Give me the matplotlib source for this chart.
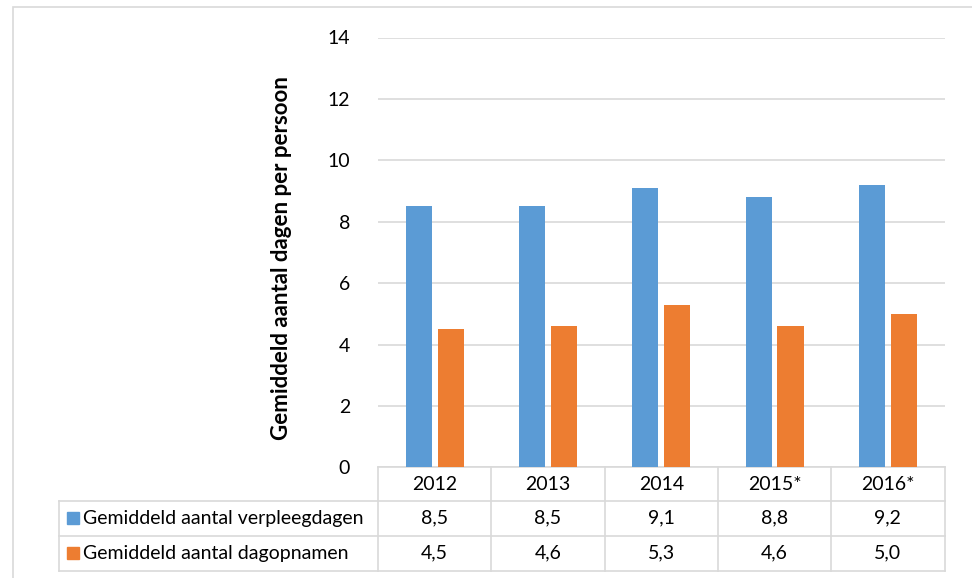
import matplotlib.pyplot as plt
import matplotlib.transforms as mtransforms
from matplotlib.patches import Rectangle
import numpy as np

plt.rcParams['font.family'] = ['Lato', 'DejaVu Sans']

years = ['2012', '2013', '2014', '2015*', '2016*']
series_names = ['Gemiddeld aantal verpleegdagen', 'Gemiddeld aantal dagopnamen']
verpleegdagen = [8.5, 8.5, 9.1, 8.8, 9.2]
dagopnamen = [4.5, 4.6, 5.3, 4.6, 5.0]
colors = ['#5B9BD5', '#ED7D31']
grid_color = '#D9D9D9'

W, H = 972, 578
FS = 14


def fx(px):
    return px / W


def fy(py):
    return 1 - py / H


def plot():
    fig = plt.figure(figsize=(W / 100, H / 100), dpi=100)

    # chart frame
    fig.patches.append(Rectangle((fx(13), fy(600)), fx(990), fy(7) - fy(600),
                                 transform=fig.transFigure, fill=False,
                                 edgecolor=grid_color, linewidth=1.2))

    left, right, top, bottom = 378, 944.5, 37.5, 467.3
    ax = fig.add_axes([fx(left), fy(bottom), fx(right - left), fy(top) - fy(bottom)])

    x = np.arange(len(years))
    width = 0.23
    off = 0.141
    ax.bar(x - off, verpleegdagen, width, color=colors[0], zorder=3)
    ax.bar(x + off, dagopnamen, width, color=colors[1], zorder=3)

    ax.set_xlim(-0.5, len(years) - 0.5)
    ax.set_ylim(0, 14)
    ax.set_yticks(range(0, 15, 2))
    ax.set_xticks([])
    ax.yaxis.grid(True, color=grid_color, linewidth=1.2, zorder=0)
    ax.tick_params(axis='y', length=0, pad=20, labelsize=FS, labelcolor='black')
    for s in ax.spines.values():
        s.set_visible(False)

    fig.text(fx(281), fy(258), 'Gemiddeld aantal dagen per persoon', rotation=90,
             ha='center', va='center', fontsize=16, fontweight='bold')

    # data table under the axis
    ax_h = bottom - top
    ax_w = right - left
    trans = mtransforms.blended_transform_factory(ax.transData, ax.transAxes)

    def ay(py):
        return -(py - bottom) / ax_h

    def axx(px):
        return (px - left) / ax_w

    rows = [467.3, 500.7, 535.7, 570.7]
    lw = 1.2
    line_kw = dict(color=grid_color, linewidth=lw, clip_on=False)

    # horizontal lines
    ax.plot([-0.5, len(years) - 0.5], [ay(rows[0])] * 2, transform=trans, **line_kw)
    for r in rows[1:]:
        ax.plot([axx(59), 1], [ay(r)] * 2, transform=ax.transAxes, **line_kw)
    # vertical lines
    for i in range(len(years) + 1):
        ax.plot([i - 0.5] * 2, [ay(rows[0]), ay(rows[-1])], transform=trans, **line_kw)
    ax.plot([axx(59)] * 2, [ay(rows[1]), ay(rows[-1])], transform=ax.transAxes, **line_kw)

    def mid(a, b):
        return ay((rows[a] + rows[b]) / 2)

    for i, yr in enumerate(years):
        ax.text(i, mid(0, 1), yr, transform=trans, ha='center', va='center', fontsize=FS)
    for row, vals in enumerate([verpleegdagen, dagopnamen]):
        yc = mid(row + 1, row + 2)
        for i, v in enumerate(vals):
            ax.text(i, yc, f'{v:.1f}'.replace('.', ','), transform=trans,
                    ha='center', va='center', fontsize=FS)
        ax.add_patch(Rectangle((axx(67), yc - 6 / ax_h), 12 / ax_w, 12 / ax_h,
                               transform=ax.transAxes, color=colors[row], clip_on=False))
        ax.text(axx(83), yc, series_names[row], transform=ax.transAxes,
                ha='left', va='center', fontsize=FS)

    fig.savefig('out.png', dpi=100)


if __name__ == '__main__':
    plot()
